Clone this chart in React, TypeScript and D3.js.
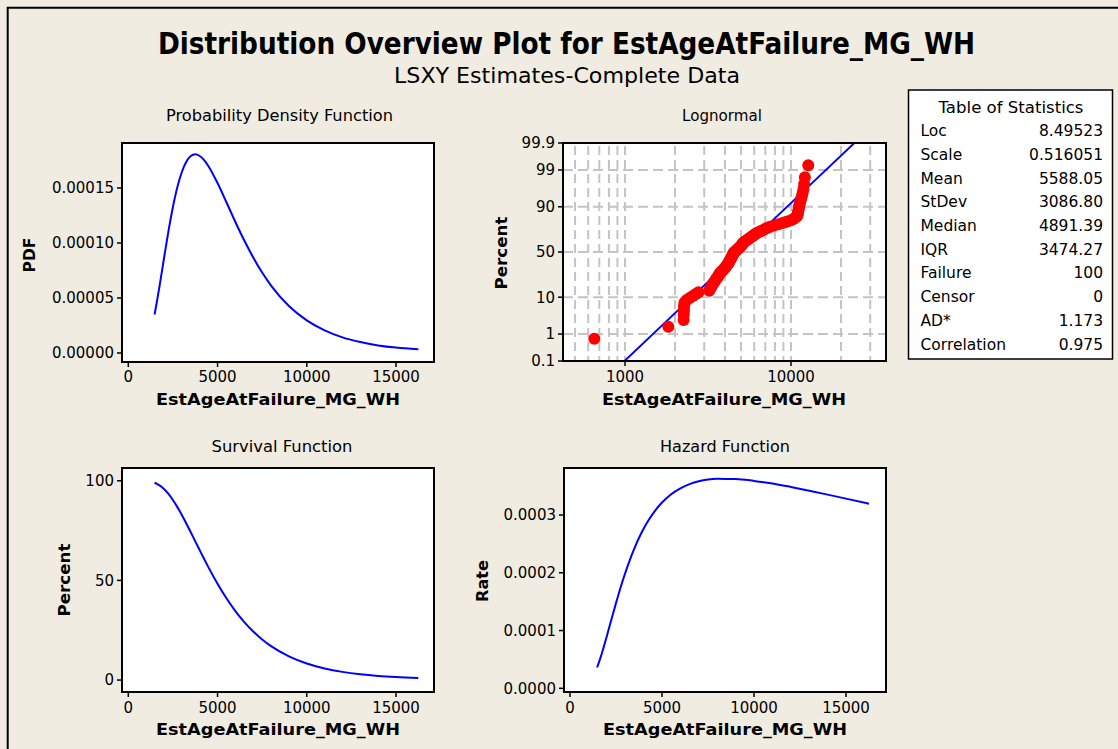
import React from 'react';
import * as d3 from 'd3';

const W = 1118;
const H = 749;
const BG = '#F0ECE2';
const FONT = "'DejaVu Sans', Verdana, sans-serif";

// ---- data ----
const curveX = [1472, 1600, 1750, 2000, 2250, 2500, 2750, 3000, 3250, 3500, 3746, 4000, 4250, 4500, 5000, 5500, 6000, 6500, 7000, 7500, 8000, 9000, 10000, 11000, 12000, 13000, 14000, 15000, 16250];
const pdfValues = [3.5e-5, 4.64e-5, 6.08e-5, 8.61e-5, 1.108e-4, 1.327e-4, 1.509e-4, 1.645e-4, 1.738e-4, 1.79e-4, 1.806e-4, 1.791e-4, 1.753e-4, 1.696e-4, 1.545e-4, 1.37e-4, 1.191e-4, 1.022e-4, 8.68e-5, 7.31e-5, 6.13e-5, 4.27e-5, 2.96e-5, 2.05e-5, 1.42e-5, 9.9e-6, 6.9e-6, 4.9e-6, 3.4e-6];
const survivalValues = [99.0, 98.48, 97.68, 95.84, 93.38, 90.33, 86.77, 82.82, 78.59, 74.17, 69.71, 65.17, 60.73, 56.42, 48.3, 41.01, 34.61, 29.08, 24.36, 20.37, 17.02, 11.87, 8.29, 5.81, 4.1, 2.91, 2.08, 1.5, 1.0];
const hazardValues = [3.6e-5, 4.75e-5, 6.25e-5, 9.02e-5, 1.19e-4, 1.474e-4, 1.745e-4, 1.993e-4, 2.22e-4, 2.422e-4, 2.601e-4, 2.76e-4, 2.9e-4, 3.02e-4, 3.215e-4, 3.36e-4, 3.462e-4, 3.535e-4, 3.585e-4, 3.614e-4, 3.625e-4, 3.622e-4, 3.59e-4, 3.545e-4, 3.485e-4, 3.42e-4, 3.352e-4, 3.283e-4, 3.195e-4];

const failureAges = [653, 1824, 2255, 2258, 2262, 2266, 2270, 2285, 2350, 2450,
  2560, 2670, 2770, 3220, 3250, 3290, 3320, 3360, 3400, 3440,
  3480, 3520, 3560, 3600, 3640, 3670, 3700, 3735, 3790, 3840,
  3890, 3940, 3990, 4040, 4080, 4120, 4160, 4192, 4220, 4250,
  4280, 4310, 4340, 4370, 4400, 4430, 4455, 4475, 4491, 4540,
  4600, 4660, 4720, 4780, 4840, 4900, 4960, 5020, 5080, 5130,
  5160, 5250, 5350, 5450, 5550, 5650, 5760, 5870, 5990, 6100,
  6215, 6400, 6600, 6800, 7000, 7230, 7472, 7900, 8400, 8900,
  9400, 9900, 10300, 10600, 10850, 10950, 11000, 11050, 11100, 11150,
  11200, 11270, 11380, 11500, 11620, 11760, 11890, 12000, 12120, 12710];
const plotPercents = [0.70, 1.69, 2.69, 3.69, 4.68, 5.68, 6.67, 7.67, 8.67, 9.66,
  10.66, 11.65, 12.65, 13.65, 14.64, 15.64, 16.63, 17.63, 18.63, 19.62,
  20.62, 21.61, 22.61, 23.61, 24.60, 25.60, 26.59, 27.59, 28.59, 29.58,
  30.58, 31.57, 32.57, 33.57, 34.56, 35.56, 36.55, 37.55, 38.55, 39.54,
  40.54, 41.53, 42.53, 43.53, 44.52, 45.52, 46.51, 47.51, 48.51, 49.50,
  50.50, 51.49, 52.49, 53.49, 54.48, 55.48, 56.47, 57.47, 58.47, 59.46,
  60.46, 61.45, 62.45, 63.45, 64.44, 65.44, 66.43, 67.43, 68.43, 69.42,
  70.42, 71.41, 72.41, 73.41, 74.40, 75.40, 76.39, 77.39, 78.39, 79.38,
  80.38, 81.37, 82.37, 83.37, 84.36, 85.36, 86.35, 87.35, 88.35, 89.34,
  90.34, 91.33, 92.33, 93.33, 94.32, 95.32, 96.31, 97.31, 98.31, 99.30];

const fitLineX = [993, 24080];
const fitLineP = [0.1, 99.9];

const xTicks = [0, 5000, 10000, 15000];
const pdfTicks = [0, 0.00005, 0.0001, 0.00015];
const survTicks = [0, 50, 100];
const hazTicks = [0, 0.0001, 0.0002, 0.0003];
const probTicks = [0.1, 1, 10, 50, 90, 99, 99.9];
const probGridY = [1, 10, 50, 90, 99];
const logTicks = [1000, 10000];
const logGridX = [500, 600, 700, 800, 900, 1000, 2000, 3000, 4000, 5000, 6000, 7000, 8000, 9000, 10000, 20000, 30000];

const statLabels = ['Loc', 'Scale', 'Mean', 'StDev', 'Median', 'IQR', 'Failure', 'Censor', 'AD*', 'Correlation'];
const statValues = ['8.49523', '0.516051', '5588.05', '3086.80', '4891.39', '3474.27', '100', '0', '1.173', '0.975'];

// inverse standard normal CDF (probability-scale transform)
function probit(p: number): number {
  const a = [-3.969683028665376e1, 2.209460984245205e2, -2.759285104469687e2, 1.38357751867269e2, -3.066479806614716e1, 2.506628277459239];
  const b = [-5.447609879822406e1, 1.615858368580409e2, -1.556989798598866e2, 6.680131188771972e1, -1.328068155288572e1];
  const c = [-7.784894002430293e-3, -3.223964580411365e-1, -2.400758277161838, -2.549732539343734, 4.374664141464968, 2.938163982698783];
  const d = [7.784695709041462e-3, 3.224671290700398e-1, 2.445134137142996, 3.754408661907416];
  const pl = 0.02425;
  if (p < pl) {
    const q = Math.sqrt(-2 * Math.log(p));
    return (((((c[0] * q + c[1]) * q + c[2]) * q + c[3]) * q + c[4]) * q + c[5]) / ((((d[0] * q + d[1]) * q + d[2]) * q + d[3]) * q + 1);
  }
  if (p <= 1 - pl) {
    const q = p - 0.5;
    const r = q * q;
    return (((((a[0] * r + a[1]) * r + a[2]) * r + a[3]) * r + a[4]) * r + a[5]) * q / (((((b[0] * r + b[1]) * r + b[2]) * r + b[3]) * r + b[4]) * r + 1);
  }
  const q = Math.sqrt(-2 * Math.log(1 - p));
  return -(((((c[0] * q + c[1]) * q + c[2]) * q + c[3]) * q + c[4]) * q + c[5]) / ((((d[0] * q + d[1]) * q + d[2]) * q + d[3]) * q + 1);
}

type Box = { x0: number; y0: number; x1: number; y1: number };

function YLabel({ x, y, text, len }: { x: number; y: number; text: string; len: number }) {
  return (
    <text transform={`translate(${x},${y}) rotate(-90)`} textAnchor="middle" dy="0.36em"
      fontWeight="bold" fontSize={15} textLength={len} lengthAdjust="spacingAndGlyphs">{text}</text>
  );
}

function Frame({ b }: { b: Box }) {
  return <rect x={b.x0} y={b.y0} width={b.x1 - b.x0} height={b.y1 - b.y0} fill="none" stroke="#000" strokeWidth={2} />;
}

function LinearPanel(props: {
  b: Box; xDomain: [number, number]; yDomain: [number, number]; yTicks: number[]; yFmt: (v: number) => string;
  values: number[]; title: string; titleLen: number; titleX: number; titleY: number;
  yLabel: string; yLabelX: number; yLabelY: number; yLabelLen: number; tickLabelY: number; axisLabelY: number;
}) {
  const { b } = props;
  const x = d3.scaleLinear().domain(props.xDomain).range([b.x0, b.x1]);
  const y = d3.scaleLinear().domain(props.yDomain).range([b.y1, b.y0]);
  const line = d3.line<number>().x((_, i) => x(curveX[i])).y((v) => y(v)).curve(d3.curveMonotoneX);
  const cx = (b.x0 + b.x1) / 2;
  return (
    <g>
      <rect x={b.x0} y={b.y0} width={b.x1 - b.x0} height={b.y1 - b.y0} fill="#fff" />
      <path d={line(props.values) || ''} fill="none" stroke="#0000FF" strokeWidth={2} />
      <Frame b={b} />
      {xTicks.map((t) => (
        <g key={'x' + t}>
          <line x1={x(t)} x2={x(t)} y1={b.y1} y2={b.y1 + 5} stroke="#000" strokeWidth={1.5} />
          <text x={x(t)} y={props.tickLabelY} textAnchor="middle" fontSize={15}>{t}</text>
        </g>
      ))}
      {props.yTicks.map((t) => (
        <g key={'y' + t}>
          <line x1={b.x0 - 5} x2={b.x0} y1={y(t)} y2={y(t)} stroke="#000" strokeWidth={1.5} />
          <text x={b.x0 - 8} y={y(t)} dy="0.36em" textAnchor="end" fontSize={15}>{props.yFmt(t)}</text>
        </g>
      ))}
      <text x={props.titleX} y={props.titleY} textAnchor="middle" fontSize={15} textLength={props.titleLen} lengthAdjust="spacingAndGlyphs">{props.title}</text>
      <text x={cx} y={props.axisLabelY} textAnchor="middle" fontSize={15} fontWeight="bold" textLength={244} lengthAdjust="spacingAndGlyphs">EstAgeAtFailure_MG_WH</text>
      <YLabel x={props.yLabelX} y={props.yLabelY} text={props.yLabel} len={props.yLabelLen} />
    </g>
  );
}

function ProbPanel() {
  const b: Box = { x0: 563, y0: 143, x1: 886, y1: 361 };
  const x = d3.scaleLog().domain([423, 37350]).range([b.x0, b.x1]);
  const zMax = probit(0.999);
  const y = d3.scaleLinear().domain([-zMax, zMax]).range([b.y1, b.y0]);
  const yp = (p: number) => y(probit(p / 100));
  const fit = d3.line<number>().x((v) => x(v)).y((_, i) => yp(fitLineP[i]));
  return (
    <g>
      <rect x={b.x0} y={b.y0} width={b.x1 - b.x0} height={b.y1 - b.y0} fill="#fff" />
      {logGridX.map((g) => (
        <line key={'gx' + g} x1={x(g)} x2={x(g)} y1={b.y0 + 3} y2={b.y1} stroke="#C4C4C4" strokeWidth={2} strokeDasharray="9,5" />
      ))}
      {probGridY.map((g) => (
        <line key={'gy' + g} x1={b.x0} x2={b.x1} y1={yp(g)} y2={yp(g)} stroke="#C4C4C4" strokeWidth={2} strokeDasharray="10,5" />
      ))}
      <path d={fit(fitLineX) || ''} fill="none" stroke="#0000FF" strokeWidth={1.8} />
      {failureAges.map((v, i) => (
        <circle key={'p' + i} cx={x(v)} cy={yp(plotPercents[i])} r={6} fill="#FF0000" />
      ))}
      <Frame b={b} />
      {probTicks.map((t) => (
        <g key={'pt' + t}>
          <line x1={b.x0 - 5} x2={b.x0} y1={yp(t)} y2={yp(t)} stroke="#000" strokeWidth={1.5} />
          <text x={b.x0 - 8} y={yp(t)} dy="0.36em" textAnchor="end" fontSize={15}>{t}</text>
        </g>
      ))}
      {logTicks.map((t) => (
        <g key={'lt' + t}>
          <line x1={x(t)} x2={x(t)} y1={b.y1} y2={b.y1 + 5} stroke="#000" strokeWidth={1.5} />
          <text x={x(t)} y={382} textAnchor="middle" fontSize={15}>{t}</text>
        </g>
      ))}
      <text x={722} y={121} textAnchor="middle" fontSize={15} textLength={80} lengthAdjust="spacingAndGlyphs">Lognormal</text>
      <text x={724} y={405} textAnchor="middle" fontSize={15} fontWeight="bold" textLength={244} lengthAdjust="spacingAndGlyphs">EstAgeAtFailure_MG_WH</text>
      <YLabel x={502} y={253} text="Percent" len={73} />
    </g>
  );
}

function StatsTable() {
  const x0 = 908.5, y0 = 90, w = 204, h = 269;
  return (
    <g>
      <rect x={x0} y={y0} width={w} height={h} fill="#fff" stroke="#000" strokeWidth={1.5} />
      <text x={1011} y={113} textAnchor="middle" fontSize={15.5} textLength={145} lengthAdjust="spacingAndGlyphs">Table of Statistics</text>
      {statLabels.map((l, i) => (
        <g key={l}>
          <text x={920.5} y={130.7 + i * 23.7} dy="0.36em" fontSize={15.5}>{l}</text>
          <text x={1103} y={130.7 + i * 23.7} dy="0.36em" fontSize={15.5} textAnchor="end">{statValues[i]}</text>
        </g>
      ))}
    </g>
  );
}

export default function App() {
  const fmt5 = d3.format('.5f');
  const fmt4 = d3.format('.4f');
  const fmt0 = d3.format('d');
  return (
    <svg width={W} height={H} style={{ position: 'absolute', left: 0, top: 0 }} fontFamily={FONT}>
      <rect x={0} y={0} width={W} height={H} fill={BG} />
      <path d={`M7.7,${H} V7.7 H${W}`} fill="none" stroke="#000" strokeWidth={2} />
      <text x={566.5} y={54} textAnchor="middle" fontSize={30} fontWeight="bold"
        fontFamily="'DejaVu Sans Condensed', 'Liberation Sans Narrow', 'DejaVu Sans', sans-serif"
        textLength={817} lengthAdjust="spacingAndGlyphs">Distribution Overview Plot for EstAgeAtFailure_MG_WH</text>
      <text x={567} y={83} textAnchor="middle" fontSize={22}
        fontFamily="'DejaVu Sans Condensed', 'Liberation Sans Narrow', 'DejaVu Sans', sans-serif"
        textLength={346} lengthAdjust="spacingAndGlyphs">LSXY Estimates-Complete Data</text>

      <LinearPanel b={{ x0: 122, y0: 143, x1: 434, y1: 362 }} xDomain={[-353, 17129]} yDomain={[-8.2e-6, 1.909e-4]}
        yTicks={pdfTicks} yFmt={fmt5} values={pdfValues} title="Probability  Density  Function" titleLen={227}
        titleX={279.5} titleY={121} yLabel="PDF" yLabelX={30} yLabelY={255} yLabelLen={35} tickLabelY={382} axisLabelY={405} />

      <ProbPanel />

      <LinearPanel b={{ x0: 122, y0: 468, x1: 434, y1: 692 }} xDomain={[-353, 17129]} yDomain={[-6.0, 106.4]}
        yTicks={survTicks} yFmt={fmt0} values={survivalValues} title="Survival Function" titleLen={141}
        titleX={282} titleY={452} yLabel="Percent" yLabelX={65} yLabelY={580} yLabelLen={73} tickLabelY={713} axisLabelY={735} />

      <LinearPanel b={{ x0: 564, y0: 468, x1: 886, y1: 692 }} xDomain={[-326, 17174]} yDomain={[-6.4e-6, 3.813e-4]}
        yTicks={hazTicks} yFmt={fmt4} values={hazardValues} title="Hazard Function" titleLen={130}
        titleX={725} titleY={452} yLabel="Rate" yLabelX={483} yLabelY={581} yLabelLen={42} tickLabelY={713} axisLabelY={735} />

      <StatsTable />
    </svg>
  );
}
